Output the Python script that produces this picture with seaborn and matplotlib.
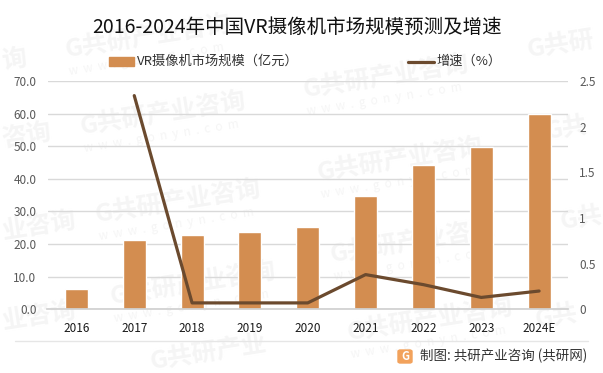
import matplotlib
matplotlib.use("Agg")
import matplotlib.pyplot as plt
import seaborn as sns
import pandas as pd
from matplotlib.patches import FancyBboxPatch

years = ["2016", "2017", "2018", "2019", "2020", "2021", "2022", "2023", "2024E"]
market_size = [6.2, 21.3, 22.8, 23.8, 25.3, 34.8, 44.2, 49.8, 60.0]
growth = [None, 2.34, 0.07, 0.07, 0.07, 0.38, 0.27, 0.13, 0.20]
left_ticks = [0, 10, 20, 30, 40, 50, 60, 70]
right_ticks = [0, 0.5, 1, 1.5, 2, 2.5]
right_labels = ["0", "0.5", "1", "1.5", "2", "2.5"]
wm_full = "G共研产业咨询"
wm_url = "w  w  w  .  g  o  n  y  n  .  c  o  m"
wm_whole = [(65, 50), (80, 127), (95, 215), (110, 297), (303, 90), (317, 173), (330, 255), (347, 333)]
wm_parts = [(2, 62, "询"), (2, 140, "咨询"), (2, 232, "业咨询"), (2, 322, "业咨询"),
            (527, 50, "G共研"), (545, 132, "G共"), (560, 222, "G共"), (535, 320, "G共"), (150, 362, "G共研产业")]

W, H = 603, 373
WM = "#f5f5f5"
sns.set_theme(style="white")
plt.rcParams["font.family"] = ["Noto Sans CJK SC", "DejaVu Sans"]
fig = plt.figure(figsize=(W / 100, H / 100), dpi=100)
ax = fig.add_axes([47.5 / W, 1 - 309.3 / H, (568 - 47.5) / W, (309.3 - 81) / H])
df = pd.DataFrame({"year": years, "size": market_size, "growth": growth})

for x0, y0 in wm_whole:
    fig.text(x0 / W, 1 - y0 / H, wm_full, fontsize=18, fontweight="bold", color=WM, rotation=9,
             rotation_mode="anchor", ha="left", va="center", zorder=-1)
    fig.text((x0 + 4) / W, 1 - (y0 + 22) / H, wm_url, fontsize=8.5, color=WM, rotation=9,
             rotation_mode="anchor", ha="left", va="center", zorder=-1)
for x0, y0, part in wm_parts:
    fig.text(x0 / W, 1 - y0 / H, part, fontsize=18, fontweight="bold", color=WM, rotation=9,
             rotation_mode="anchor", ha="left", va="center", zorder=-1)

ax.patch.set_alpha(0)
sns.barplot(data=df, x="year", y="size", color="#D38D50", saturation=1, width=0.4, ax=ax, zorder=2)
ax.set_ylim(0, 70)
ax.set_xlim(-0.5, 8.5)
ax.set_yticks(left_ticks)
ax.set_yticklabels([f"{v:.1f}" for v in left_ticks], fontsize=8.5, color="#595959")
ax.set_xlabel("")
ax.set_ylabel("")
ax.tick_params(axis="x", length=0, labelsize=8.5, labelcolor="#1a1a1a", pad=9)
ax.tick_params(axis="y", length=0, pad=8)
ax.grid(axis="y", color="#d9d9d9", lw=1)
ax.set_axisbelow(True)
sns.despine(ax=ax, left=True, right=True, top=True)
ax.spines["bottom"].set_color("#d0d0d0")

ax2 = ax.twinx()
ax2.patch.set_alpha(0)
sns.lineplot(data=df, x="year", y="growth", color="#6B4A2E", lw=2.3, ax=ax2, zorder=3, errorbar=None)
ax2.set_ylim(0, 2.5)
ax2.set_yticks(right_ticks)
ax2.set_yticklabels(right_labels, fontsize=8.5, color="#595959")
ax2.set_ylabel("")
ax2.tick_params(axis="y", length=0, pad=8)
ax2.grid(False)
sns.despine(ax=ax2, left=True, right=True, top=True, bottom=True)

fig.text(297 / W, 1 - 27.5 / H, "2016-2024年中国VR摄像机市场规模预测及增速", fontsize=14, color="#111111",
         ha="center", va="center")
fig.patches.append(plt.Rectangle((109 / W, 1 - 66 / H), 25 / W, 9 / H, transform=fig.transFigure, color="#D38D50"))
fig.text(137 / W, 1 - 61.5 / H, "VR摄像机市场规模（亿元）", fontsize=9.5, color="#333333", ha="left", va="center")
fig.add_artist(plt.Line2D([408 / W, 434 / W], [1 - 61.5 / H] * 2, color="#6B4A2E", lw=2.3))
fig.text(436 / W, 1 - 61.5 / H, "增速（%）", fontsize=9.5, color="#333333", ha="left", va="center")
fig.add_artist(plt.Line2D([15 / W, 588 / W], [1 - 341 / H] * 2, color="#e6e6e6", lw=1))
fig.patches.append(FancyBboxPatch((398 / W, 1 - 363 / H), 14 / W, 13 / H, boxstyle="round,pad=0,rounding_size=0.004",
                                  transform=fig.transFigure, color="#F2A25C"))
fig.text(405 / W, 1 - 356.5 / H, "G", fontsize=8, fontweight="bold", color="white", ha="center", va="center")
fig.text(420 / W, 1 - 356 / H, "制图: 共研产业咨询 (共研网)", fontsize=9.7, color="#333333", ha="left", va="center")
fig.savefig("out.png", dpi=100)
